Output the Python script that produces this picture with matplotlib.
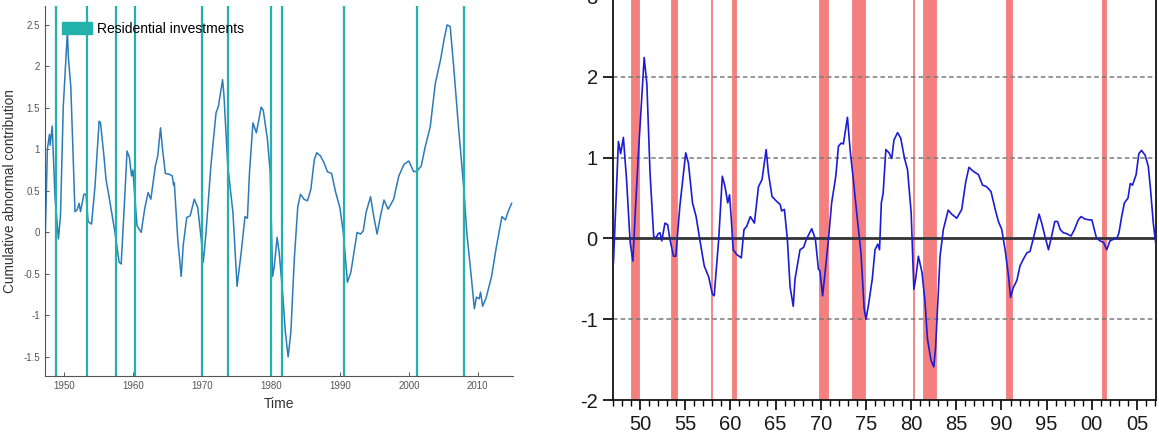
import matplotlib
matplotlib.use("Agg")
import matplotlib.pyplot as plt
from matplotlib.patches import Patch
from matplotlib.ticker import MultipleLocator

plt.rcParams["font.family"] = ["Liberation Sans", "DejaVu Sans"]
plt.rcParams["axes.unicode_minus"] = False

# ---- left panel: cumulative abnormal contribution (residential investments)
left_years = [
    1947.25, 1947.6, 1947.9, 1948.0, 1948.3, 1948.7, 1949.2, 1949.5, 1949.9, 1950.5,
    1950.65, 1951.0, 1951.6, 1951.9, 1952.2, 1952.4, 1952.9, 1953.2, 1953.5, 1954.0,
    1954.5, 1955.1, 1955.3, 1955.8, 1956.1, 1956.6, 1957.4, 1958.0, 1958.3, 1958.7,
    1959.15, 1959.5, 1959.8, 1960.0, 1960.3, 1960.6, 1961.2, 1961.7, 1962.2, 1962.6,
    1963.25, 1963.6, 1964.0, 1964.3, 1964.7, 1965.3, 1965.7, 1965.9, 1966.0, 1966.5,
    1967.0, 1967.3, 1967.8, 1968.3, 1968.9, 1969.4, 1969.9, 1970.2, 1970.6, 1971.3,
    1972.05, 1972.4, 1973.0, 1973.2, 1973.75, 1974.5, 1975.1, 1975.7, 1976.25, 1976.6,
    1976.9, 1977.4, 1977.9, 1978.6, 1978.9, 1979.5, 1979.9, 1980.25, 1980.5, 1980.9,
    1981.2, 1981.7, 1982.1, 1982.5, 1982.9, 1983.4, 1983.9, 1984.3, 1984.8, 1985.3,
    1985.8, 1986.3, 1986.65, 1987.2, 1987.7, 1988.2, 1988.8, 1989.4, 1990.0, 1990.5,
    1991.1, 1991.6, 1992.05, 1992.5, 1993.0, 1993.4, 1993.8, 1994.45, 1994.9, 1995.4,
    1995.9, 1996.4, 1997.0, 1997.8, 1998.55, 1999.3, 2000.0, 2000.7, 2001.2, 2001.8,
    2002.4, 2003.1, 2003.85, 2004.6, 2005.1, 2005.55, 2006.0, 2006.5, 2007.2, 2007.95,
    2008.4, 2009.05, 2009.5, 2009.8, 2010.2, 2010.4, 2010.7, 2011.2, 2012.0, 2012.7,
    2013.5, 2014.0, 2014.4, 2014.9,
]
left_values = [
    -0.2, 1.0, 1.18, 1.05, 1.28, 0.43, -0.08, 0.2, 1.51, 2.42,
    2.1, 1.75, 0.25, 0.27, 0.35, 0.25, 0.46, 0.46, 0.13, 0.1,
    0.55, 1.34, 1.32, 0.92, 0.64, 0.4, 0.0, -0.36, -0.38, 0.24,
    0.98, 0.9, 0.68, 0.75, 0.4, 0.08, 0.0, 0.28, 0.48, 0.4,
    0.8, 0.92, 1.26, 1.0, 0.71, 0.7, 0.68, 0.57, 0.6, -0.08,
    -0.53, -0.15, 0.18, 0.2, 0.4, 0.3, -0.08, -0.36, 0.0, 0.8,
    1.44, 1.52, 1.84, 1.65, 0.8, 0.24, -0.65, -0.24, 0.19, 0.17,
    0.72, 1.32, 1.2, 1.51, 1.47, 1.12, 0.73, -0.53, -0.41, -0.06,
    -0.24, -0.72, -1.2, -1.5, -1.2, -0.32, 0.31, 0.46, 0.4, 0.38,
    0.52, 0.88, 0.96, 0.92, 0.84, 0.73, 0.71, 0.48, 0.3, 0.0,
    -0.6, -0.48, -0.24, 0.0, -0.02, 0.02, 0.24, 0.43, 0.2, -0.02,
    0.2, 0.39, 0.28, 0.4, 0.68, 0.82, 0.86, 0.73, 0.74, 0.8,
    1.04, 1.27, 1.8, 2.08, 2.32, 2.5, 2.48, 2.0, 1.27, 0.55,
    0.0, -0.53, -0.92, -0.78, -0.8, -0.72, -0.89, -0.79, -0.53, -0.17,
    0.19, 0.15, 0.25, 0.35,
]
left_recessions = [1948.9, 1953.4, 1957.6, 1960.3, 1969.95, 1973.85,
                   1980.05, 1981.6, 1990.6, 2001.25, 2008.0]
left_xticks = [1950, 1960, 1970, 1980, 1990, 2000, 2010]
left_yticks = [-1.5, -1, -0.5, 0, 0.5, 1, 1.5, 2, 2.5]
left_ylabels = ["-1.5", "-1", "-0.5", "0", "0.5", "1", "1.5", "2", "2.5"]

# ---- right panel
right_years = [
    1947.05, 1947.6, 1947.85, 1948.15, 1948.5, 1948.9, 1949.2, 1949.5, 1949.9, 1950.45,
    1950.75, 1951.1, 1951.5, 1951.75, 1952.0, 1952.2, 1952.4, 1952.75, 1953.05, 1953.3,
    1953.7, 1953.95, 1954.4, 1955.05, 1955.35, 1955.8, 1956.2, 1956.6, 1957.1, 1957.6,
    1958.0, 1958.2, 1958.7, 1959.1, 1959.4, 1959.7, 1959.9, 1960.1, 1960.3, 1960.7,
    1961.2, 1961.5, 1961.8, 1962.2, 1962.65, 1963.1, 1963.5, 1963.95, 1964.2, 1964.6,
    1965.1, 1965.5, 1965.67, 1965.97, 1966.3, 1966.6, 1966.95, 1967.15, 1967.7, 1968.1,
    1968.4, 1969.0, 1969.4, 1969.74, 1969.9, 1970.2, 1970.4, 1970.85, 1971.2, 1971.66,
    1971.95, 1972.25, 1972.5, 1972.95, 1973.25, 1973.6, 1973.97, 1974.45, 1974.8, 1975.0,
    1975.27, 1975.7, 1976.0, 1976.3, 1976.5, 1976.7, 1976.9, 1977.2, 1977.55, 1977.85,
    1978.1, 1978.5, 1978.85, 1979.25, 1979.6, 1980.0, 1980.3, 1980.5, 1980.8, 1981.2,
    1981.54, 1981.8, 1982.2, 1982.5, 1982.7, 1982.93, 1983.2, 1983.56, 1984.1, 1984.5,
    1985.05, 1985.6, 1986.04, 1986.4, 1986.89, 1987.45, 1987.9, 1988.36, 1988.84, 1989.3,
    1989.66, 1990.03, 1990.4, 1990.77, 1991.0, 1991.3, 1991.7, 1992.05, 1992.4, 1992.8,
    1993.16, 1993.5, 1993.8, 1994.16, 1994.45, 1994.8, 1995.2, 1995.55, 1995.9, 1996.2,
    1996.5, 1996.85, 1997.2, 1997.7, 1998.07, 1998.5, 1998.8, 1999.25, 1999.7, 2000.0,
    2000.27, 2000.5, 2000.9, 2001.3, 2001.65, 2002.0, 2002.4, 2002.8, 2003.0, 2003.3,
    2003.6, 2004.0, 2004.25, 2004.5, 2004.9, 2005.2, 2005.5, 2005.9, 2006.25, 2006.5,
    2006.8, 2007.1,
]
right_values = [
    -0.3, 1.2, 1.05, 1.25, 0.73, -0.05, -0.28, 0.4, 1.22, 2.24,
    1.91, 0.81, 0.03, 0.0, 0.06, 0.07, -0.03, 0.19, 0.17, -0.01,
    -0.22, -0.22, 0.4, 1.06, 0.93, 0.44, 0.27, -0.01, -0.34, -0.48,
    -0.69, -0.71, -0.01, 0.77, 0.64, 0.44, 0.54, 0.23, -0.14, -0.2,
    -0.24, 0.11, 0.15, 0.27, 0.19, 0.64, 0.73, 1.1, 0.81, 0.52,
    0.46, 0.42, 0.34, 0.36, -0.01, -0.6, -0.84, -0.5, -0.14, -0.11,
    -0.01, 0.12, -0.01, -0.38, -0.4, -0.71, -0.5, -0.01, 0.44, 0.77,
    1.14, 1.18, 1.17, 1.5, 1.09, 0.73, 0.32, -0.18, -0.87, -1.0,
    -0.83, -0.5, -0.14, -0.07, -0.14, 0.44, 0.56, 1.1, 1.06, 0.99,
    1.22, 1.31, 1.24, 1.0, 0.85, 0.32, -0.63, -0.5, -0.22, -0.42,
    -0.79, -1.24, -1.51, -1.59, -1.36, -0.83, -0.22, 0.11, 0.35, 0.3,
    0.25, 0.36, 0.7, 0.88, 0.83, 0.79, 0.66, 0.64, 0.58, 0.36,
    0.21, 0.11, -0.14, -0.46, -0.73, -0.61, -0.52, -0.34, -0.26, -0.18,
    -0.16, -0.01, 0.13, 0.3, 0.19, 0.03, -0.14, 0.03, 0.21, 0.21,
    0.11, 0.07, 0.06, 0.03, 0.11, 0.23, 0.27, 0.24, 0.23, 0.23,
    0.11, 0.01, -0.03, -0.05, -0.14, -0.03, -0.01, 0.01, 0.07, 0.27,
    0.44, 0.5, 0.68, 0.66, 0.79, 1.05, 1.09, 1.03, 0.89, 0.6,
    0.19, -0.09,
]
band_starts = [1948.95, 1953.45, 1957.82, 1960.15, 1969.75, 1973.45, 1980.2, 1981.3, 1990.45, 2001.1]
band_ends = [1949.85, 1954.1, 1957.92, 1960.6, 1970.75, 1974.9, 1980.3, 1982.7, 1991.2, 2001.6]
right_xticks = [1950, 1955, 1960, 1965, 1970, 1975, 1980, 1985, 1990, 1995, 2000, 2005]
right_yticks = [-2, -1, 0, 1, 2, 3]

teal = "#22b2ab"
red = "#f47f7f"
fig = plt.figure(figsize=(11.59, 4.40), dpi=100)

# ---------------- left
ax1 = fig.add_axes([0.0388, 0.1455, 0.4038, 0.8413])
ax1.plot(left_years, left_values, color="#2b7bba", lw=1.1, zorder=2)
for yr in left_recessions:
    ax1.axvline(yr, color=teal, lw=1.6, zorder=3)
ax1.set_xlim(1947.25, 2015.1)
ax1.set_ylim(-1.73, 2.73)
ax1.set_xticks(left_xticks)
ax1.set_yticks(left_yticks)
ax1.set_yticklabels(left_ylabels)
for s in ["top", "right"]:
    ax1.spines[s].set_visible(False)
for s in ["left", "bottom"]:
    ax1.spines[s].set_color("#555555")
    ax1.spines[s].set_linewidth(0.8)
ax1.tick_params(direction="in", length=3, width=0.7, color="#555555",
                labelsize=7, labelcolor="#555555")
ax1.set_xlabel("Time", fontsize=10, color="#333333")
ax1.set_ylabel("Cumulative abnormal contribution", fontsize=9.8, color="#333333")
ax1.xaxis.set_label_coords(0.5, -0.057)
ax1.yaxis.set_label_coords(-0.06, 0.5)
ax1.legend(handles=[Patch(color=teal, label="Residential investments")],
           loc="upper left", bbox_to_anchor=(0.036, 0.957), frameon=False,
           borderpad=0, borderaxespad=0, handlelength=2.2, handleheight=0.95,
           handletextpad=0.3, fontsize=10)

# ---------------- right
ax2 = fig.add_axes([0.5289, 0.0909, 0.4689, 0.918])
for a, b in zip(band_starts, band_ends):
    ax2.axvspan(a, b, facecolor=red, edgecolor=red, lw=0.6, zorder=1)
for yv in [-1, 1, 2, 3]:
    ax2.axhline(yv, color="#7a7a7a", lw=1.1, ls=(0, (3, 2)), zorder=2)
ax2.axhline(0, color="#333333", lw=2, zorder=2)
ax2.plot(right_years, right_values, color="#1c1cd6", lw=1.2, zorder=3)
ax2.set_xlim(1947.0, 2007.15)
ax2.set_ylim(-2, 3)
ax2.set_xticks(right_xticks)
ax2.set_xticklabels([f"{y % 100:02d}" for y in right_xticks])
ax2.xaxis.set_minor_locator(MultipleLocator(1))
ax2.set_yticks(right_yticks)
ax2.spines["top"].set_visible(False)
for s in ["left", "bottom", "right"]:
    ax2.spines[s].set_linewidth(1.3)
    ax2.spines[s].set_color("#111111")
ax2.tick_params(which="major", direction="out", length=7, width=1.2,
                labelsize=14.5, labelcolor="#1a1a1a", pad=4)
ax2.tick_params(which="minor", direction="out", length=4, width=1)
ax2.tick_params(axis="y", which="minor", left=False)

fig.savefig("out.png", dpi=100)
